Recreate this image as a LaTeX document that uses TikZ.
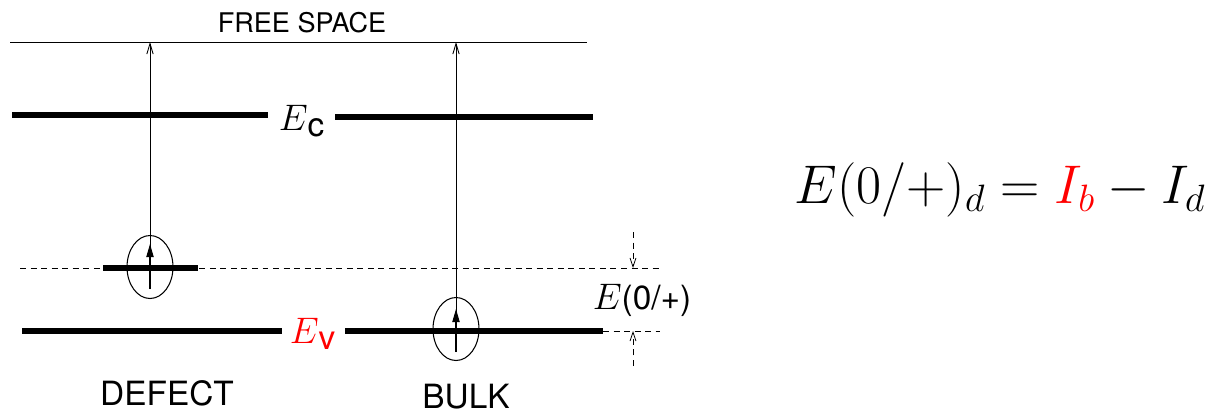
\RequirePackage{fix-cm}
\documentclass[tikz,border=0pt]{standalone}
\usepackage{fontspec}
\setsansfont{TeX Gyre Heros}
\usetikzlibrary{arrows.meta, shapes.geometric}

\newcommand{\bigE}{{\fontsize{21}{24}\selectfont$E$}}

\begin{document}
\begin{tikzpicture}[x=0.2mm, y=-0.2mm,
    level/.style   = {line width=3.3pt},
    guide/.style   = {line width=0.45pt, dash pattern=on 3.4pt off 2.6pt},
    up/.style      = {-{Straight Barb[length=6pt,width=3.6pt]}, line width=0.5pt},
    spinarr/.style = {-{Triangle[length=7.5pt,width=4.2pt]}, line width=0.6pt},
    orbit/.style   = {draw, ellipse, line width=0.6pt, inner sep=0pt,
                      minimum width=9.2mm, minimum height=12.6mm},
    lab/.style     = {font=\sffamily\fontsize{19}{22}\selectfont, inner sep=0pt},
    small/.style   = {font=\sffamily\fontsize{15.4}{18}\selectfont, inner sep=0pt}
  ]
    \useasboundingbox (0,0) rectangle (1214,413);

    % free space and band edges
    \draw[line width=0.5pt] (10,42) -- (587,42);
    \node[small, anchor=base] (free) at (302,32) {FREE SPACE};

    \draw[level] (12,115) -- (268,115);
    \draw[level] (335,117) -- (593,117);
    \node[lab] (ec) at (302,121) {\bigE\textsubscript{\fontsize{19}{22}\selectfont c}};

    \draw[level] (22,331) -- (282,331);
    \draw[level] (345,331) -- (603,331);
    \node[lab, text=red] (ev) at (313,334) {\bigE\textsubscript{\fontsize{19}{22}\selectfont v}};

    % defect level
    \draw[guide] (20,268) -- (660,268);
    \draw[level] (103,268) -- (198,268);
    \draw[guide] (603,331) -- (660,331);

    % electrons
    \node[orbit] (dspin) at (150,267) {};
    \node[orbit] (bspin) at (456,329) {};

    \coordinate (dlo) at (150,289);
    \coordinate (dhi) at (150,244);
    \coordinate (dtop) at (150,42);
    \coordinate (blo) at (456,352);
    \coordinate (bhi) at (456,309);
    \coordinate (btop) at (456,42);

    \draw[up] (dlo) -- (dtop);
    \draw[spinarr] (dlo) -- (dhi);
    \draw[up] (blo) -- (btop);
    \draw[spinarr] (blo) -- (bhi);

    % level separation
    \coordinate (m1) at (633,232);
    \coordinate (m2) at (633,268);
    \coordinate (m3) at (633,331);
    \coordinate (m4) at (633,366);
    \draw[guide, -{Straight Barb[length=5pt,width=3.4pt]}] (m1) -- (m2);
    \draw[guide, -{Straight Barb[length=5pt,width=3.4pt]}] (m4) -- (m3);
    \node[lab] (e0) at (642,300) {\bigE(0/+)};

    \node[lab, anchor=base] (defect) at (167,405) {DEFECT};
    \node[lab, anchor=base] (bulk) at (466,408) {BULK};

    \node[font=\fontsize{31}{37}\selectfont, inner sep=0pt] (eq) at (1000,190)
      {$E(0/+)_d = {\color{red}I_b} - I_d$};
\end{tikzpicture}
\end{document}
